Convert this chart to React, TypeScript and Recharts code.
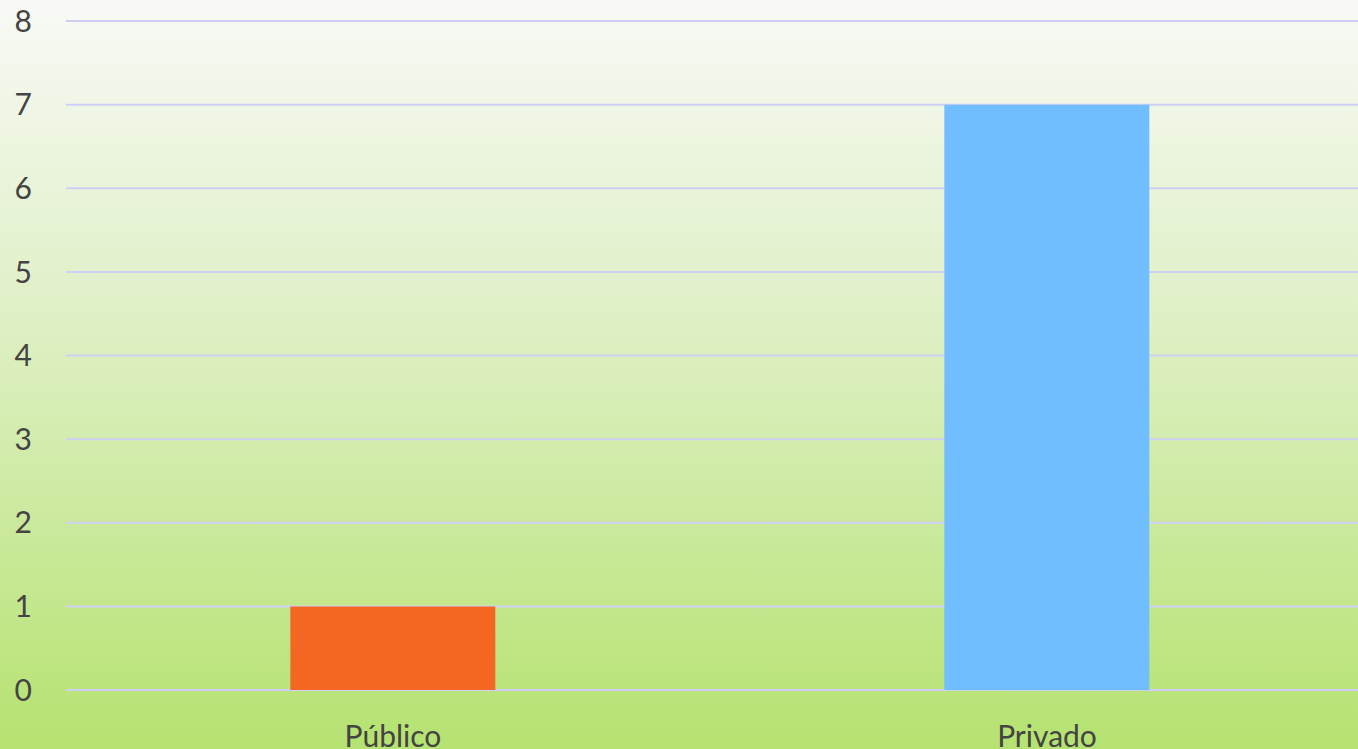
import React from 'react';
import { BarChart, Bar, XAxis, YAxis, CartesianGrid, Cell } from 'recharts';

const categories = ['Público', 'Privado'];
const values = [1, 7];
const barColors = ['#F46722', '#70BEFF'];
const yTicks = [0, 1, 2, 3, 4, 5, 6, 7, 8];

const data = categories.map((name, i) => ({ name, value: values[i] }));

const tickStyle = { fill: '#444444', fontSize: 30, fontFamily: 'Lato, sans-serif' };

export default function App() {
  return (
    <div
      style={{
        position: 'fixed',
        top: 0,
        left: 0,
        width: 1358,
        height: 749,
        overflow: 'hidden',
        background: 'linear-gradient(to bottom, #F8F9F6 0%, #DDEFC2 45%, #B5E270 100%)',
      }}
    >
      <BarChart
        width={1374}
        height={760}
        data={data}
        margin={{ top: 21, right: 0, bottom: 0, left: 0 }}
        barCategoryGap="34.3%"
      >
        <CartesianGrid vertical={false} stroke="#CFCFF6" strokeWidth={2} />
        <XAxis
          dataKey="name"
          axisLine={false}
          tickLine={false}
          tickSize={0}
          tickMargin={36}
          height={70}
          tick={tickStyle}
        />
        <YAxis
          domain={[0, 8]}
          ticks={yTicks}
          axisLine={false}
          tickLine={false}
          tickSize={0}
          tickMargin={34}
          width={66}
          tick={tickStyle}
          interval={0}
        />
        <Bar dataKey="value" isAnimationActive={false}>
          {data.map((d, i) => (
            <Cell key={d.name} fill={barColors[i]} />
          ))}
        </Bar>
      </BarChart>
    </div>
  );
}
